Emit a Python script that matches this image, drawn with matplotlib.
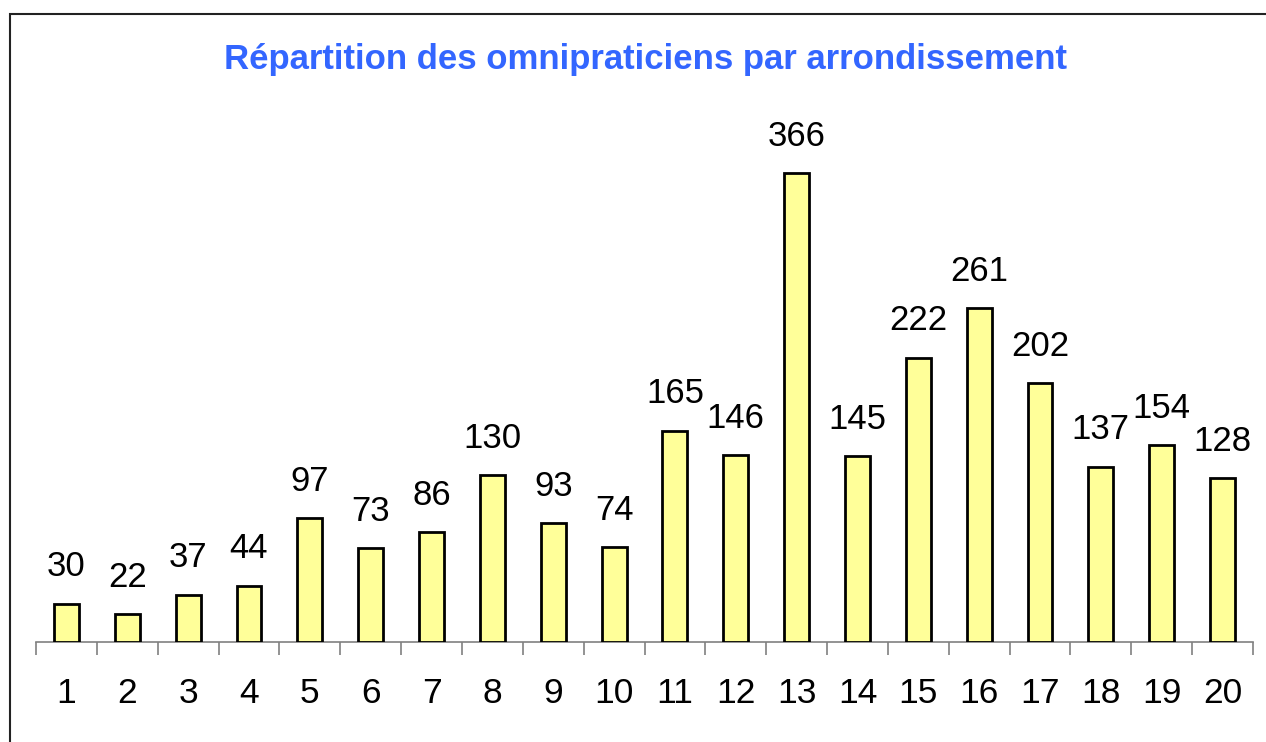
import matplotlib.pyplot as plt
import numpy as np
from matplotlib.patches import Rectangle

arrondissements = [str(i) for i in range(1, 21)]
omnipraticiens = [30, 22, 37, 44, 97, 73, 86, 130, 93, 74,
                  165, 146, 366, 145, 222, 261, 202, 137, 154, 128]

plt.rcParams['font.family'] = ['Liberation Sans', 'DejaVu Sans']

W, H = 1266, 742
fig = plt.figure(figsize=(W / 100, H / 100), dpi=100)

# cadre autour du graphique (bords droit et bas hors image)
fig.patches.append(Rectangle((10 / W, -0.1), 1.2, 1 - 14 / H + 0.1,
                             transform=fig.transFigure, fill=False,
                             edgecolor='#222222', linewidth=1.5))

ax = fig.add_axes([36 / W, 1 - 642 / H, (1253 - 36) / W, (642 - 100) / H])
x = np.arange(len(arrondissements))
ax.bar(x, omnipraticiens, width=0.41, color='#FFFF99', edgecolor='black',
       linewidth=2, zorder=3)

for xi, v in zip(x, omnipraticiens):
    ax.annotate(str(v), (xi, v), xytext=(0, 14.5), textcoords='offset points',
                ha='center', va='bottom', fontsize=25)

ax.set_xlim(-0.5, len(x) - 0.5)
ax.set_ylim(0, (642 - 100) / 1.281)

for s in ['top', 'right', 'left']:
    ax.spines[s].set_visible(False)
ax.spines['bottom'].set_color('#808080')
ax.spines['bottom'].set_linewidth(1.2)
ax.set_yticks([])

ax.set_xticks(x)
ax.set_xticklabels(arrondissements, fontsize=25.5)
ax.tick_params(axis='x', which='major', length=0, pad=25.5)
ax.set_xticks(np.arange(-0.5, len(x), 1), minor=True)
ax.tick_params(axis='x', which='minor', length=9, width=1.2, color='#808080',
               direction='out')

fig.text(646 / W, 1 - 59 / H, 'Répartition des omnipraticiens par arrondissement',
         ha='center', va='center', fontsize=25, fontweight='bold', color='#3366FF')

fig.savefig('out.png', dpi=100)
